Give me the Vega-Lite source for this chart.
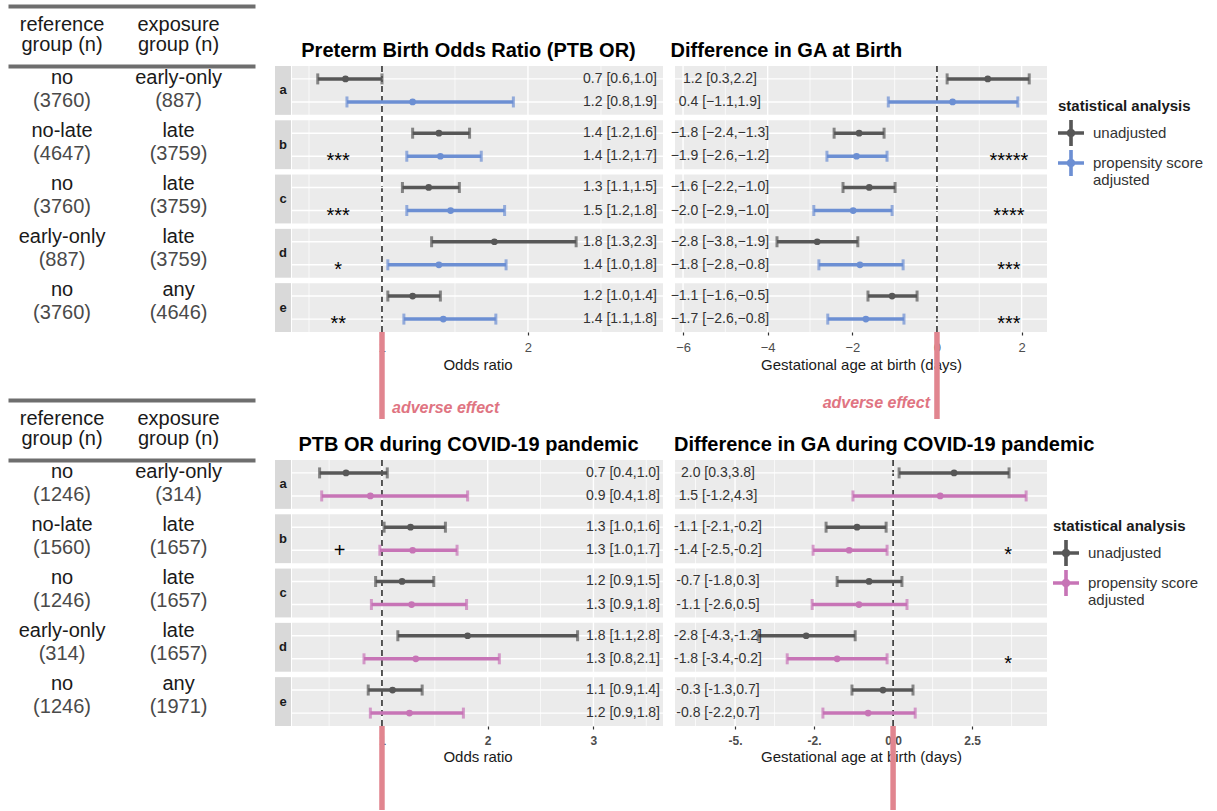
{
  "$schema": "https://vega.github.io/schema/vega-lite/v6.json",
  "padding": {"left": 8, "top": 6, "right": 5, "bottom": 0},
  "background": "white",
  "config": {"view": {"stroke": null}, "font": "Liberation Sans"},
  "datasets": {
    "rows": [{"row": "a"}, {"row": "b"}, {"row": "c"}, {"row": "d"}, {"row": "e"}],
    "hdr": [
      {"col": "reference", "line": "1", "text": "reference"},
      {"col": "reference", "line": "2", "text": "group (n)"},
      {"col": "exposure", "line": "1", "text": "exposure"},
      {"col": "exposure", "line": "2", "text": "group (n)"}
    ],
    "tab1": [
      {"row": "a", "col": "reference", "name": "no", "n": "(3760)"},
      {"row": "a", "col": "exposure", "name": "early-only", "n": "(887)"},
      {"row": "b", "col": "reference", "name": "no-late", "n": "(4647)"},
      {"row": "b", "col": "exposure", "name": "late", "n": "(3759)"},
      {"row": "c", "col": "reference", "name": "no", "n": "(3760)"},
      {"row": "c", "col": "exposure", "name": "late", "n": "(3759)"},
      {"row": "d", "col": "reference", "name": "early-only", "n": "(887)"},
      {"row": "d", "col": "exposure", "name": "late", "n": "(3759)"},
      {"row": "e", "col": "reference", "name": "no", "n": "(3760)"},
      {"row": "e", "col": "exposure", "name": "any", "n": "(4646)"}
    ],
    "tab2": [
      {"row": "a", "col": "reference", "name": "no", "n": "(1246)"},
      {"row": "a", "col": "exposure", "name": "early-only", "n": "(314)"},
      {"row": "b", "col": "reference", "name": "no-late", "n": "(1560)"},
      {"row": "b", "col": "exposure", "name": "late", "n": "(1657)"},
      {"row": "c", "col": "reference", "name": "no", "n": "(1246)"},
      {"row": "c", "col": "exposure", "name": "late", "n": "(1657)"},
      {"row": "d", "col": "reference", "name": "early-only", "n": "(314)"},
      {"row": "d", "col": "exposure", "name": "late", "n": "(1657)"},
      {"row": "e", "col": "reference", "name": "no", "n": "(1246)"},
      {"row": "e", "col": "exposure", "name": "any", "n": "(1971)"}
    ],
    "or1": [
      {"row": "a", "analysis": "unadjusted", "est": 0.75, "lo": 0.56, "hi": 1.0, "label": "0.7 [0.6,1.0]"},
      {"row": "a", "analysis": "adjusted", "est": 1.21, "lo": 0.76, "hi": 1.9, "label": "1.2 [0.8,1.9]"},
      {"row": "b", "analysis": "unadjusted", "est": 1.39, "lo": 1.21, "hi": 1.6, "label": "1.4 [1.2,1.6]"},
      {"row": "b", "analysis": "adjusted", "est": 1.4, "lo": 1.17, "hi": 1.68, "label": "1.4 [1.2,1.7]"},
      {"row": "c", "analysis": "unadjusted", "est": 1.32, "lo": 1.14, "hi": 1.53, "label": "1.3 [1.1,1.5]"},
      {"row": "c", "analysis": "adjusted", "est": 1.47, "lo": 1.17, "hi": 1.84, "label": "1.5 [1.2,1.8]"},
      {"row": "d", "analysis": "unadjusted", "est": 1.77, "lo": 1.34, "hi": 2.33, "label": "1.8 [1.3,2.3]"},
      {"row": "d", "analysis": "adjusted", "est": 1.39, "lo": 1.04, "hi": 1.85, "label": "1.4 [1.0,1.8]"},
      {"row": "e", "analysis": "unadjusted", "est": 1.21, "lo": 1.04, "hi": 1.4, "label": "1.2 [1.0,1.4]"},
      {"row": "e", "analysis": "adjusted", "est": 1.42, "lo": 1.15, "hi": 1.78, "label": "1.4 [1.1,1.8]"}
    ],
    "ga1": [
      {"row": "a", "analysis": "unadjusted", "est": 1.2, "lo": 0.24, "hi": 2.18, "label": "1.2 [0.3,2.2]"},
      {"row": "a", "analysis": "adjusted", "est": 0.37, "lo": -1.15, "hi": 1.91, "label": "0.4 [−1.1,1.9]"},
      {"row": "b", "analysis": "unadjusted", "est": -1.84, "lo": -2.43, "hi": -1.25, "label": "−1.8 [−2.4,−1.3]"},
      {"row": "b", "analysis": "adjusted", "est": -1.9, "lo": -2.6, "hi": -1.18, "label": "−1.9 [−2.6,−1.2]"},
      {"row": "c", "analysis": "unadjusted", "est": -1.6, "lo": -2.22, "hi": -0.99, "label": "−1.6 [−2.2,−1.0]"},
      {"row": "c", "analysis": "adjusted", "est": -1.98, "lo": -2.91, "hi": -1.06, "label": "−2.0 [−2.9,−1.0]"},
      {"row": "d", "analysis": "unadjusted", "est": -2.83, "lo": -3.78, "hi": -1.87, "label": "−2.8 [−3.8,−1.9]"},
      {"row": "d", "analysis": "adjusted", "est": -1.82, "lo": -2.79, "hi": -0.8, "label": "−1.8 [−2.8,−0.8]"},
      {"row": "e", "analysis": "unadjusted", "est": -1.06, "lo": -1.63, "hi": -0.47, "label": "−1.1 [−1.6,−0.5]"},
      {"row": "e", "analysis": "adjusted", "est": -1.68, "lo": -2.58, "hi": -0.78, "label": "−1.7 [−2.6,−0.8]"}
    ],
    "or2": [
      {"row": "a", "analysis": "unadjusted", "est": 0.66, "lo": 0.41, "hi": 1.05, "label": "0.7 [0.4,1.0]"},
      {"row": "a", "analysis": "adjusted", "est": 0.89, "lo": 0.43, "hi": 1.81, "label": "0.9 [0.4,1.8]"},
      {"row": "b", "analysis": "unadjusted", "est": 1.27, "lo": 1.02, "hi": 1.6, "label": "1.3 [1.0,1.6]"},
      {"row": "b", "analysis": "adjusted", "est": 1.29, "lo": 0.98, "hi": 1.71, "label": "1.3 [1.0,1.7]"},
      {"row": "c", "analysis": "unadjusted", "est": 1.19, "lo": 0.94, "hi": 1.49, "label": "1.2 [0.9,1.5]"},
      {"row": "c", "analysis": "adjusted", "est": 1.28, "lo": 0.9, "hi": 1.8, "label": "1.3 [0.9,1.8]"},
      {"row": "d", "analysis": "unadjusted", "est": 1.81, "lo": 1.15, "hi": 2.85, "label": "1.8 [1.1,2.8]"},
      {"row": "d", "analysis": "adjusted", "est": 1.32, "lo": 0.83, "hi": 2.11, "label": "1.3 [0.8,2.1]"},
      {"row": "e", "analysis": "unadjusted", "est": 1.1, "lo": 0.87, "hi": 1.38, "label": "1.1 [0.9,1.4]"},
      {"row": "e", "analysis": "adjusted", "est": 1.26, "lo": 0.89, "hi": 1.77, "label": "1.2 [0.9,1.8]"}
    ],
    "ga2": [
      {"row": "a", "analysis": "unadjusted", "est": 1.93, "lo": 0.19, "hi": 3.67, "label": "2.0 [0.3,3.8]"},
      {"row": "a", "analysis": "adjusted", "est": 1.49, "lo": -1.27, "hi": 4.21, "label": "1.5 [-1.2,4.3]"},
      {"row": "b", "analysis": "unadjusted", "est": -1.14, "lo": -2.12, "hi": -0.22, "label": "-1.1 [-2.1,-0.2]"},
      {"row": "b", "analysis": "adjusted", "est": -1.39, "lo": -2.53, "hi": -0.19, "label": "-1.4 [-2.5,-0.2]"},
      {"row": "c", "analysis": "unadjusted", "est": -0.76, "lo": -1.77, "hi": 0.28, "label": "-0.7 [-1.8,0.3]"},
      {"row": "c", "analysis": "adjusted", "est": -1.08, "lo": -2.56, "hi": 0.44, "label": "-1.1 [-2.6,0.5]"},
      {"row": "d", "analysis": "unadjusted", "est": -2.75, "lo": -4.27, "hi": -1.2, "label": "-2.8 [-4.3,-1.2]"},
      {"row": "d", "analysis": "adjusted", "est": -1.77, "lo": -3.35, "hi": -0.19, "label": "-1.8 [-3.4,-0.2]"},
      {"row": "e", "analysis": "unadjusted", "est": -0.32, "lo": -1.3, "hi": 0.63, "label": "-0.3 [-1.3,0.7]"},
      {"row": "e", "analysis": "adjusted", "est": -0.79, "lo": -2.22, "hi": 0.7, "label": "-0.8 [-2.2,0.7]"}
    ],
    "st_or1": [
      {"row": "b", "analysis": "adjusted", "s": "***"},
      {"row": "c", "analysis": "adjusted", "s": "***"},
      {"row": "d", "analysis": "adjusted", "s": "*"},
      {"row": "e", "analysis": "adjusted", "s": "**"}
    ],
    "st_ga1": [
      {"row": "b", "analysis": "adjusted", "s": "*****"},
      {"row": "c", "analysis": "adjusted", "s": "****"},
      {"row": "d", "analysis": "adjusted", "s": "***"},
      {"row": "e", "analysis": "adjusted", "s": "***"}
    ],
    "st_or2": [{"row": "b", "analysis": "adjusted", "s": "+"}],
    "st_ga2": [
      {"row": "b", "analysis": "adjusted", "s": "*"},
      {"row": "d", "analysis": "adjusted", "s": "*"}
    ],
    "ref_or": [{"ref": 1, "label": "adverse effect"}],
    "ref_ga": [{"ref": 0, "label": "adverse effect"}]
  },
  "bounds": "flush",
  "spacing": 0,
  "vconcat": [
    {
      "width": 247, "height": 60,
      "data": {"name": "hdr"},
      "encoding": {
        "y": {"field": "line", "type": "nominal", "scale": {"type": "point", "domain": ["1", "2"], "padding": 1, "align": 0.6125}, "axis": null},
        "text": {"field": "text"}
      },
      "layer": [
        {"transform": [{"filter": "datum.line == '1'"}],
         "mark": {"type": "text", "baseline": "alphabetic", "fontSize": 20, "color": "#1a1a1a"},
         "encoding": {"x": {"field": "col", "type": "nominal", "scale": {"type": "point", "domain": ["reference", "exposure"], "padding": 0.56, "align": 0.414},
           "axis": {"orient": "top", "domain": true, "domainWidth": 4, "domainColor": "#6e6e6e", "labels": false, "ticks": false, "title": null}}}},
        {"transform": [{"filter": "datum.line == '2'"}],
         "mark": {"type": "text", "baseline": "alphabetic", "fontSize": 20, "color": "#1a1a1a"},
         "encoding": {"x": {"field": "col", "type": "nominal", "scale": {"type": "point", "domain": ["reference", "exposure"], "padding": 0.56, "align": 0.414},
           "axis": {"orient": "bottom", "domain": true, "domainWidth": 4, "domainColor": "#6e6e6e", "labels": false, "ticks": false, "title": null}}}}
      ],
      "resolve": {"axis": {"x": "independent"}}
    },
    {
      "bounds": "flush", "spacing": 267,
      "hconcat": [
        {
          "bounds": "flush", "spacing": 68,
          "vconcat": [
            {
              "width": 247, "height": 266,
              "data": {"name": "tab1"},
              "encoding": {
                "x": {"field": "col", "type": "nominal", "scale": {"type": "point", "domain": ["reference", "exposure"], "padding": 0.56, "align": 0.414}, "axis": null},
                "y": {"field": "row", "type": "nominal", "scale": {"domain": ["a", "b", "c", "d", "e"], "paddingInner": 0.1, "paddingOuter": 0}, "axis": null}
              },
              "layer": [
                {"mark": {"type": "text", "baseline": "alphabetic", "dy": -9, "fontSize": 20, "color": "#1a1a1a"}, "encoding": {"text": {"field": "name"}}},
                {"mark": {"type": "text", "baseline": "alphabetic", "dy": 14, "fontSize": 20, "color": "#4a4a4a"}, "encoding": {"text": {"field": "n"}}}
              ]
            },
            {
              "bounds": "flush", "spacing": 0,
              "vconcat": [
                {
                  "width": 247, "height": 60,
                  "data": {"name": "hdr"},
                  "encoding": {
                    "y": {"field": "line", "type": "nominal", "scale": {"type": "point", "domain": ["1", "2"], "padding": 1, "align": 0.6125}, "axis": null},
                    "text": {"field": "text"}
                  },
                  "layer": [
                    {"transform": [{"filter": "datum.line == '1'"}],
                     "mark": {"type": "text", "baseline": "alphabetic", "fontSize": 20, "color": "#1a1a1a"},
                     "encoding": {"x": {"field": "col", "type": "nominal", "scale": {"type": "point", "domain": ["reference", "exposure"], "padding": 0.56, "align": 0.414},
                       "axis": {"orient": "top", "domain": true, "domainWidth": 4, "domainColor": "#6e6e6e", "labels": false, "ticks": false, "title": null}}}},
                    {"transform": [{"filter": "datum.line == '2'"}],
                     "mark": {"type": "text", "baseline": "alphabetic", "fontSize": 20, "color": "#1a1a1a"},
                     "encoding": {"x": {"field": "col", "type": "nominal", "scale": {"type": "point", "domain": ["reference", "exposure"], "padding": 0.56, "align": 0.414},
                       "axis": {"orient": "bottom", "domain": true, "domainWidth": 4, "domainColor": "#6e6e6e", "labels": false, "ticks": false, "title": null}}}}
                  ],
                  "resolve": {"axis": {"x": "independent"}}
                },
                {
                  "width": 247, "height": 266,
                  "data": {"name": "tab2"},
                  "encoding": {
                    "x": {"field": "col", "type": "nominal", "scale": {"type": "point", "domain": ["reference", "exposure"], "padding": 0.56, "align": 0.414}, "axis": null},
                    "y": {"field": "row", "type": "nominal", "scale": {"domain": ["a", "b", "c", "d", "e"], "paddingInner": 0.1, "paddingOuter": 0}, "axis": null}
                  },
                  "layer": [
                    {"mark": {"type": "text", "baseline": "alphabetic", "dy": -9, "fontSize": 20, "color": "#1a1a1a"}, "encoding": {"text": {"field": "name"}}},
                    {"mark": {"type": "text", "baseline": "alphabetic", "dy": 14, "fontSize": 20, "color": "#4a4a4a"}, "encoding": {"text": {"field": "n"}}}
                  ]
                }
              ]
            }
          ]
        },
        {
          "bounds": "flush", "spacing": 400,
          "hconcat": [
            {
              "bounds": "flush", "spacing": 17,
              "hconcat": [
                {
                  "bounds": "flush", "spacing": 128,
                  "vconcat": [
                    {
                      "width": 16, "height": 266,
                      "data": {"name": "rows"},
                      "encoding": {"y": {"field": "row", "type": "nominal", "scale": {"domain": ["a", "b", "c", "d", "e"], "paddingInner": 0.1, "paddingOuter": 0}, "axis": null}},
                      "layer": [
                        {"mark": {"type": "rect", "color": "#d9d9d9"},
                         "encoding": {"x": {"datum": 0, "type": "quantitative", "scale": {"domain": [0, 1], "nice": false, "zero": false}, "axis": null}, "x2": {"datum": 1}}},
                        {"mark": {"type": "text", "fontSize": 13, "fontWeight": "bold", "color": "#1a1a1a"},
                         "encoding": {"x": {"datum": 0.5, "type": "quantitative", "axis": null}, "text": {"field": "row"}}}
                      ]
                    },
                    {
                      "width": 16, "height": 266,
                      "data": {"name": "rows"},
                      "encoding": {"y": {"field": "row", "type": "nominal", "scale": {"domain": ["a", "b", "c", "d", "e"], "paddingInner": 0.1, "paddingOuter": 0}, "axis": null}},
                      "layer": [
                        {"mark": {"type": "rect", "color": "#d9d9d9"},
                         "encoding": {"x": {"datum": 0, "type": "quantitative", "scale": {"domain": [0, 1], "nice": false, "zero": false}, "axis": null}, "x2": {"datum": 1}}},
                        {"mark": {"type": "text", "fontSize": 13, "fontWeight": "bold", "color": "#1a1a1a"},
                         "encoding": {"x": {"datum": 0.5, "type": "quantitative", "axis": null}, "text": {"field": "row"}}}
                      ]
                    }
                  ]
                },
                {
                  "bounds": "flush", "spacing": 394,
                  "resolve": {"scale": {"color": "independent", "stroke": "independent", "fill": "independent"}},
                  "vconcat": [
                    {
                      "bounds": "flush", "spacing": 0,
                      "resolve": {"scale": {"color": "independent", "stroke": "independent", "fill": "independent"}},
                      "vconcat": [
                        {
                          "width": 371, "height": 266,
                          "title": {"text": "Preterm Birth Odds Ratio (PTB OR)", "anchor": "middle", "dx": -9, "offset": 4, "fontSize": 20, "fontWeight": "bold", "color": "#000000"},
                          "layer": [
                            {"data": {"name": "rows"}, "mark": {"type": "rect", "color": "#ebebeb"},
                             "encoding": {
                               "x": {"datum": 0.3836, "type": "quantitative", "scale": {"domain": [0.3836, 2.925], "nice": false, "zero": false}},
                               "x2": {"datum": 2.925},
                               "y": {"field": "row", "type": "nominal", "scale": {"domain": ["a", "b", "c", "d", "e"], "paddingInner": 0.1, "paddingOuter": 0}, "axis": null}}},
                            {"encoding": {"y": {"datum": 0, "type": "quantitative", "scale": {"domain": [0, 1], "nice": false, "zero": false}, "axis": null}, "y2": {"datum": 1}},
                             "layer": [
                               {"data": {"values": [{"v": 0.5}, {"v": 1.5}, {"v": 2.5}]}, "mark": {"type": "rule", "color": "#ffffff", "strokeWidth": 0.7},
                                "encoding": {"x": {"field": "v", "type": "quantitative"}}},
                               {"data": {"values": [{"v": 1}, {"v": 2}]}, "mark": {"type": "rule", "color": "#ffffff", "strokeWidth": 1.4},
                                "encoding": {"x": {"field": "v", "type": "quantitative"}}},
                               {"data": {"name": "ref_or"}, "mark": {"type": "rule", "color": "#000000", "strokeWidth": 1.3, "strokeDash": [6, 4]},
                                "encoding": {"x": {"field": "ref", "type": "quantitative"}}}
                             ]},
                            {"data": {"name": "or1"},
                             "encoding": {
                               "y": {"field": "row", "type": "nominal", "scale": {"domain": ["a", "b", "c", "d", "e"], "paddingInner": 0.1, "paddingOuter": 0}, "axis": null},
                               "yOffset": {"field": "analysis", "type": "nominal", "scale": {"domain": ["unadjusted", "adjusted"], "paddingOuter": 0.06, "paddingInner": 0}}},
                             "layer": [
                               {"mark": {"type": "rule", "color": "#ffffff", "strokeWidth": 1.4},
                                "encoding": {"x": {"datum": 0.3836, "type": "quantitative"}, "x2": {"datum": 2.925}}},
                               {"mark": {"type": "rule", "strokeWidth": 3.5},
                                "encoding": {"x": {"field": "lo", "type": "quantitative",
                                    "axis": {"values": [1, 2], "format": "d", "title": "Odds ratio", "grid": false, "domain": false, "ticks": true, "tickSize": 3, "tickColor": "#333333", "tickWidth": 1.2, "labels": true, "labelFontSize": 13, "labelColor": "#4d4d4d", "labelPadding": 6, "titleFontSize": 15, "titleFontWeight": "normal", "titleColor": "#1a1a1a", "titlePadding": 3}},
                                  "x2": {"field": "hi"},
                                  "stroke": {"field": "analysis", "type": "nominal", "scale": {"domain": ["adjusted", "unadjusted"], "range": ["#6c8fd3", "#575757"]}, "legend": null}}},
                               {"mark": {"type": "tick", "thickness": 3, "size": 11},
                                "encoding": {"x": {"field": "lo", "type": "quantitative"}, "fill": {"field": "analysis", "type": "nominal", "scale": {"domain": ["adjusted", "unadjusted"], "range": ["#6c8fd3", "#575757"]}, "legend": null}}},
                               {"mark": {"type": "tick", "thickness": 3, "size": 11},
                                "encoding": {"x": {"field": "hi", "type": "quantitative"}, "fill": {"field": "analysis", "type": "nominal", "legend": null}}},
                               {"mark": {"type": "point", "filled": true, "size": 45, "opacity": 1},
                                "encoding": {"x": {"field": "est", "type": "quantitative"}, "color": {"field": "analysis", "type": "nominal", "scale": {"domain": ["unadjusted", "adjusted"], "range": ["#575757", "#6c8fd3"]}, "legend": null}}},
                               {"mark": {"type": "text", "align": "right", "dx": -6, "fontSize": 14, "color": "#333333"},
                                "encoding": {"x": {"datum": 2.925, "type": "quantitative"}, "text": {"field": "label"}}},
                               {"data": {"name": "st_or1"}, "mark": {"type": "text", "fontSize": 20, "dy": 5, "color": "#000000"},
                                "encoding": {"x": {"datum": 0.7, "type": "quantitative"}, "text": {"field": "s"}}}
                             ]}
                          ],
                          "resolve": {"scale": {"y": "independent"}}
                        },
                        {
                          "width": 371, "height": 87,
                          "data": {"name": "ref_or"},
                          "encoding": {"x": {"field": "ref", "type": "quantitative", "scale": {"domain": [0.3836, 2.925], "nice": false, "zero": false}, "axis": null}},
                          "layer": [
                            {"mark": {"type": "rule", "color": "#e1858f", "strokeWidth": 5.5},
                             "encoding": {"y": {"datum": 0, "type": "quantitative", "scale": {"domain": [0, 1], "nice": false, "zero": false}, "axis": null}, "y2": {"datum": 1}}},
                            {"mark": {"type": "text", "align": "left", "baseline": "alphabetic", "dx": 10, "dy": -6, "fontSize": 16, "fontStyle": "italic", "fontWeight": "bold", "color": "#e07482"},
                             "encoding": {"y": {"datum": 0, "type": "quantitative"}, "text": {"field": "label"}}}
                          ]
                        }
                      ]
                    },
                    {
                      "bounds": "flush", "spacing": 0,
                      "resolve": {"scale": {"color": "independent", "stroke": "independent", "fill": "independent"}},
                      "vconcat": [
                        {
                          "width": 371, "height": 266,
                          "title": {"text": "PTB OR during COVID-19 pandemic", "anchor": "middle", "dx": -9, "offset": 4, "fontSize": 20, "fontWeight": "bold", "color": "#000000"},
                          "layer": [
                            {"data": {"name": "rows"}, "mark": {"type": "rect", "color": "#ebebeb"},
                             "encoding": {
                               "x": {"datum": 0.149, "type": "quantitative", "scale": {"domain": [0.149, 3.658], "nice": false, "zero": false}},
                               "x2": {"datum": 3.658},
                               "y": {"field": "row", "type": "nominal", "scale": {"domain": ["a", "b", "c", "d", "e"], "paddingInner": 0.1, "paddingOuter": 0}, "axis": null}}},
                            {"encoding": {"y": {"datum": 0, "type": "quantitative", "scale": {"domain": [0, 1], "nice": false, "zero": false}, "axis": null}, "y2": {"datum": 1}},
                             "layer": [
                               {"data": {"values": [{"v": 0.5}, {"v": 1.5}, {"v": 2.5}, {"v": 3.5}]}, "mark": {"type": "rule", "color": "#ffffff", "strokeWidth": 0.7},
                                "encoding": {"x": {"field": "v", "type": "quantitative"}}},
                               {"data": {"values": [{"v": 1}, {"v": 2}, {"v": 3}]}, "mark": {"type": "rule", "color": "#ffffff", "strokeWidth": 1.4},
                                "encoding": {"x": {"field": "v", "type": "quantitative"}}},
                               {"data": {"name": "ref_or"}, "mark": {"type": "rule", "color": "#000000", "strokeWidth": 1.3, "strokeDash": [6, 4]},
                                "encoding": {"x": {"field": "ref", "type": "quantitative"}}}
                             ]},
                            {"data": {"name": "or2"},
                             "encoding": {
                               "y": {"field": "row", "type": "nominal", "scale": {"domain": ["a", "b", "c", "d", "e"], "paddingInner": 0.1, "paddingOuter": 0}, "axis": null},
                               "yOffset": {"field": "analysis", "type": "nominal", "scale": {"domain": ["unadjusted", "adjusted"], "paddingOuter": 0.06, "paddingInner": 0}}},
                             "layer": [
                               {"mark": {"type": "rule", "color": "#ffffff", "strokeWidth": 1.4},
                                "encoding": {"x": {"datum": 0.149, "type": "quantitative"}, "x2": {"datum": 3.658}}},
                               {"mark": {"type": "rule", "strokeWidth": 3.5},
                                "encoding": {"x": {"field": "lo", "type": "quantitative",
                                    "axis": {"values": [1, 2, 3], "format": "d", "title": "Odds ratio", "grid": false, "domain": false, "ticks": true, "tickSize": 3, "tickColor": "#333333", "tickWidth": 1.2, "labels": true, "labelFontSize": 12, "labelFontWeight": "bold", "labelColor": "#4d4d4d", "labelPadding": 6, "titleFontSize": 15, "titleFontWeight": "normal", "titleColor": "#1a1a1a", "titlePadding": 3}},
                                  "x2": {"field": "hi"},
                                  "stroke": {"field": "analysis", "type": "nominal", "scale": {"domain": ["adjusted", "unadjusted"], "range": ["#c774b6", "#575757"]}, "legend": null}}},
                               {"mark": {"type": "tick", "thickness": 3, "size": 11},
                                "encoding": {"x": {"field": "lo", "type": "quantitative"}, "fill": {"field": "analysis", "type": "nominal", "scale": {"domain": ["adjusted", "unadjusted"], "range": ["#c774b6", "#575757"]}, "legend": null}}},
                               {"mark": {"type": "tick", "thickness": 3, "size": 11},
                                "encoding": {"x": {"field": "hi", "type": "quantitative"}, "fill": {"field": "analysis", "type": "nominal", "legend": null}}},
                               {"mark": {"type": "point", "filled": true, "size": 45, "opacity": 1},
                                "encoding": {"x": {"field": "est", "type": "quantitative"}, "color": {"field": "analysis", "type": "nominal", "scale": {"domain": ["unadjusted", "adjusted"], "range": ["#575757", "#c774b6"]}, "legend": null}}},
                               {"mark": {"type": "text", "align": "right", "dx": -3, "fontSize": 14, "color": "#333333"},
                                "encoding": {"x": {"datum": 3.658, "type": "quantitative"}, "text": {"field": "label"}}},
                               {"data": {"name": "st_or2"}, "mark": {"type": "text", "fontSize": 20, "dy": 1, "color": "#000000"},
                                "encoding": {"x": {"datum": 0.6, "type": "quantitative"}, "text": {"field": "s"}}}
                             ]}
                          ],
                          "resolve": {"scale": {"y": "independent"}}
                        },
                        {
                          "width": 371, "height": 84,
                          "data": {"name": "ref_or"},
                          "mark": {"type": "rule", "color": "#e1858f", "strokeWidth": 5.5},
                          "encoding": {
                            "x": {"field": "ref", "type": "quantitative", "scale": {"domain": [0.149, 3.658], "nice": false, "zero": false}, "axis": null},
                            "y": {"datum": 0, "type": "quantitative", "scale": {"domain": [0, 1], "nice": false, "zero": false}, "axis": null},
                            "y2": {"datum": 1}
                          }
                        }
                      ]
                    }
                  ]
                }
              ]
            },
            {
              "bounds": "flush", "spacing": 394,
              "resolve": {"scale": {"color": "independent", "stroke": "independent", "fill": "independent"}},
              "vconcat": [
                {
                  "bounds": "flush", "spacing": 0,
                  "resolve": {"scale": {"color": "independent", "stroke": "independent", "fill": "independent"}},
                  "vconcat": [
                    {
                      "width": 372, "height": 266,
                      "title": {"text": "Difference in GA at Birth", "anchor": "start", "offset": 4, "fontSize": 20, "fontWeight": "bold", "color": "#000000"},
                      "layer": [
                        {"data": {"name": "rows"}, "mark": {"type": "rect", "color": "#ebebeb"},
                         "encoding": {
                           "x": {"datum": -6.19, "type": "quantitative", "scale": {"domain": [-6.19, 2.6], "nice": false, "zero": false}},
                           "x2": {"datum": 2.6},
                           "y": {"field": "row", "type": "nominal", "scale": {"domain": ["a", "b", "c", "d", "e"], "paddingInner": 0.1, "paddingOuter": 0}, "axis": null}}},
                        {"encoding": {"y": {"datum": 0, "type": "quantitative", "scale": {"domain": [0, 1], "nice": false, "zero": false}, "axis": null}, "y2": {"datum": 1}},
                         "layer": [
                           {"data": {"values": [{"v": -5}, {"v": -3}, {"v": -1}, {"v": 1}]}, "mark": {"type": "rule", "color": "#ffffff", "strokeWidth": 0.7},
                            "encoding": {"x": {"field": "v", "type": "quantitative"}}},
                           {"data": {"values": [{"v": -6}, {"v": -4}, {"v": -2}, {"v": 0}, {"v": 2}]}, "mark": {"type": "rule", "color": "#ffffff", "strokeWidth": 1.4},
                            "encoding": {"x": {"field": "v", "type": "quantitative"}}},
                           {"data": {"name": "ref_ga"}, "mark": {"type": "rule", "color": "#000000", "strokeWidth": 1.3, "strokeDash": [6, 4]},
                            "encoding": {"x": {"field": "ref", "type": "quantitative"}}}
                         ]},
                        {"data": {"name": "ga1"},
                         "encoding": {
                           "y": {"field": "row", "type": "nominal", "scale": {"domain": ["a", "b", "c", "d", "e"], "paddingInner": 0.1, "paddingOuter": 0}, "axis": null},
                           "yOffset": {"field": "analysis", "type": "nominal", "scale": {"domain": ["unadjusted", "adjusted"], "paddingOuter": 0.06, "paddingInner": 0}}},
                         "layer": [
                           {"mark": {"type": "rule", "color": "#ffffff", "strokeWidth": 1.4},
                            "encoding": {"x": {"datum": -6.19, "type": "quantitative"}, "x2": {"datum": 2.6}}},
                           {"mark": {"type": "rule", "strokeWidth": 3.5},
                            "encoding": {"x": {"field": "lo", "type": "quantitative",
                                "axis": {"values": [-6, -4, -2, 0, 2], "format": "d", "title": "Gestational age at birth (days)", "grid": false, "domain": false, "ticks": true, "tickSize": 3, "tickColor": "#333333", "tickWidth": 1.2, "labels": true, "labelFontSize": 13, "labelColor": "#4d4d4d", "labelPadding": 6, "titleFontSize": 15, "titleFontWeight": "normal", "titleColor": "#1a1a1a", "titlePadding": 3}},
                              "x2": {"field": "hi"},
                              "stroke": {"field": "analysis", "type": "nominal", "scale": {"domain": ["adjusted", "unadjusted"], "range": ["#6c8fd3", "#575757"]}, "legend": null}}},
                           {"mark": {"type": "tick", "thickness": 3, "size": 11},
                            "encoding": {"x": {"field": "lo", "type": "quantitative"}, "fill": {"field": "analysis", "type": "nominal", "scale": {"domain": ["adjusted", "unadjusted"], "range": ["#6c8fd3", "#575757"]}, "legend": null}}},
                           {"mark": {"type": "tick", "thickness": 3, "size": 11},
                            "encoding": {"x": {"field": "hi", "type": "quantitative"}, "fill": {"field": "analysis", "type": "nominal", "legend": null}}},
                           {"mark": {"type": "point", "filled": true, "size": 45, "opacity": 1},
                            "encoding": {"x": {"field": "est", "type": "quantitative"},
                              "color": {"field": "analysis", "type": "nominal", "scale": {"domain": ["unadjusted", "adjusted"], "range": ["#575757", "#6c8fd3"]},
                                "legend": {"orient": "none", "legendX": 383, "legendY": 33, "title": "statistical analysis", "titleFontSize": 15, "titleFontWeight": "bold", "titleColor": "#1a1a1a", "titlePadding": 6,
                                  "labelFontSize": 15, "labelColor": "#333333", "labelOffset": 9, "rowPadding": 4, "symbolSize": 676, "symbolStrokeWidth": 0, "symbolOpacity": 1,
                                  "symbolType": "M-1,-0.14L1,-0.14L1,0.14L-1,0.14Z M-0.14,-1L0.14,-1L0.14,1L-0.14,1Z M-0.33,0A0.33,0.33,0,1,1,0.33,0A0.33,0.33,0,1,1,-0.33,0Z",
                                  "labelExpr": "datum.value == 'adjusted' ? ['propensity score', 'adjusted'] : datum.label"}}}},
                           {"mark": {"type": "text", "align": "center", "fontSize": 14, "color": "#333333"},
                            "encoding": {"x": {"datum": -5.13, "type": "quantitative"}, "text": {"field": "label"}}},
                           {"data": {"name": "st_ga1"}, "mark": {"type": "text", "fontSize": 20, "dy": 5, "color": "#000000"},
                            "encoding": {"x": {"datum": 1.7, "type": "quantitative"}, "text": {"field": "s"}}}
                         ]}
                      ],
                      "resolve": {"scale": {"y": "independent"}}
                    },
                    {
                      "width": 372, "height": 87,
                      "data": {"name": "ref_ga"},
                      "encoding": {"x": {"field": "ref", "type": "quantitative", "scale": {"domain": [-6.19, 2.6], "nice": false, "zero": false}, "axis": null}},
                      "layer": [
                        {"mark": {"type": "rule", "color": "#e1858f", "strokeWidth": 5.5},
                         "encoding": {"y": {"datum": 0, "type": "quantitative", "scale": {"domain": [0, 1], "nice": false, "zero": false}, "axis": null}, "y2": {"datum": 1}}},
                        {"mark": {"type": "text", "align": "right", "baseline": "alphabetic", "dx": -7, "dy": -11.5, "fontSize": 16, "fontStyle": "italic", "fontWeight": "bold", "color": "#e07482"},
                         "encoding": {"y": {"datum": 0, "type": "quantitative"}, "text": {"field": "label"}}}
                      ]
                    }
                  ]
                },
                {
                  "bounds": "flush", "spacing": 0,
                  "resolve": {"scale": {"color": "independent", "stroke": "independent", "fill": "independent"}},
                  "vconcat": [
                    {
                      "width": 372, "height": 266,
                      "title": {"text": "Difference in GA during COVID-19 pandemic", "anchor": "start", "offset": 4, "fontSize": 20, "fontWeight": "bold", "color": "#000000"},
                      "layer": [
                        {"data": {"name": "rows"}, "mark": {"type": "rect", "color": "#ebebeb"},
                         "encoding": {
                           "x": {"datum": -6.9, "type": "quantitative", "scale": {"domain": [-6.9, 4.87], "nice": false, "zero": false}},
                           "x2": {"datum": 4.87},
                           "y": {"field": "row", "type": "nominal", "scale": {"domain": ["a", "b", "c", "d", "e"], "paddingInner": 0.1, "paddingOuter": 0}, "axis": null}}},
                        {"encoding": {"y": {"datum": 0, "type": "quantitative", "scale": {"domain": [0, 1], "nice": false, "zero": false}, "axis": null}, "y2": {"datum": 1}},
                         "layer": [
                           {"data": {"values": [{"v": -6.25}, {"v": -3.75}, {"v": -1.25}, {"v": 1.25}, {"v": 3.75}]}, "mark": {"type": "rule", "color": "#ffffff", "strokeWidth": 0.7},
                            "encoding": {"x": {"field": "v", "type": "quantitative"}}},
                           {"data": {"values": [{"v": -5}, {"v": -2.5}, {"v": 0}, {"v": 2.5}]}, "mark": {"type": "rule", "color": "#ffffff", "strokeWidth": 1.4},
                            "encoding": {"x": {"field": "v", "type": "quantitative"}}},
                           {"data": {"name": "ref_ga"}, "mark": {"type": "rule", "color": "#000000", "strokeWidth": 1.3, "strokeDash": [6, 4]},
                            "encoding": {"x": {"field": "ref", "type": "quantitative"}}}
                         ]},
                        {"data": {"name": "ga2"},
                         "encoding": {
                           "y": {"field": "row", "type": "nominal", "scale": {"domain": ["a", "b", "c", "d", "e"], "paddingInner": 0.1, "paddingOuter": 0}, "axis": null},
                           "yOffset": {"field": "analysis", "type": "nominal", "scale": {"domain": ["unadjusted", "adjusted"], "paddingOuter": 0.06, "paddingInner": 0}}},
                         "layer": [
                           {"mark": {"type": "rule", "color": "#ffffff", "strokeWidth": 1.4},
                            "encoding": {"x": {"datum": -6.9, "type": "quantitative"}, "x2": {"datum": 4.87}}},
                           {"mark": {"type": "rule", "strokeWidth": 3.5},
                            "encoding": {"x": {"field": "lo", "type": "quantitative",
                                "axis": {"values": [-5, -2.5, 0, 2.5], "labelExpr": "datum.value == -5 ? '-5.' : datum.value == -2.5 ? '-2.' : datum.value == 0 ? '0.0' : '2.5'", "title": "Gestational age at birth (days)", "grid": false, "domain": false, "ticks": true, "tickSize": 3, "tickColor": "#333333", "tickWidth": 1.2, "labels": true, "labelFontSize": 12, "labelFontWeight": "bold", "labelColor": "#4d4d4d", "labelPadding": 6, "titleFontSize": 15, "titleFontWeight": "normal", "titleColor": "#1a1a1a", "titlePadding": 3}},
                              "x2": {"field": "hi"},
                              "stroke": {"field": "analysis", "type": "nominal", "scale": {"domain": ["adjusted", "unadjusted"], "range": ["#c774b6", "#575757"]}, "legend": null}}},
                           {"mark": {"type": "tick", "thickness": 3, "size": 11},
                            "encoding": {"x": {"field": "lo", "type": "quantitative"}, "fill": {"field": "analysis", "type": "nominal", "scale": {"domain": ["adjusted", "unadjusted"], "range": ["#c774b6", "#575757"]}, "legend": null}}},
                           {"mark": {"type": "tick", "thickness": 3, "size": 11},
                            "encoding": {"x": {"field": "hi", "type": "quantitative"}, "fill": {"field": "analysis", "type": "nominal", "legend": null}}},
                           {"mark": {"type": "point", "filled": true, "size": 45, "opacity": 1},
                            "encoding": {"x": {"field": "est", "type": "quantitative"},
                              "color": {"field": "analysis", "type": "nominal", "scale": {"domain": ["unadjusted", "adjusted"], "range": ["#575757", "#c774b6"]},
                                "legend": {"orient": "none", "legendX": 378, "legendY": 59, "title": "statistical analysis", "titleFontSize": 15, "titleFontWeight": "bold", "titleColor": "#1a1a1a", "titlePadding": 6,
                                  "labelFontSize": 15, "labelColor": "#333333", "labelOffset": 9, "rowPadding": 4, "symbolSize": 676, "symbolStrokeWidth": 0, "symbolOpacity": 1,
                                  "symbolType": "M-1,-0.14L1,-0.14L1,0.14L-1,0.14Z M-0.14,-1L0.14,-1L0.14,1L-0.14,1Z M-0.33,0A0.33,0.33,0,1,1,0.33,0A0.33,0.33,0,1,1,-0.33,0Z",
                                  "labelExpr": "datum.value == 'adjusted' ? ['propensity score', 'adjusted'] : datum.label"}}}},
                           {"mark": {"type": "text", "align": "center", "fontSize": 14, "color": "#333333"},
                            "encoding": {"x": {"datum": -5.54, "type": "quantitative"}, "text": {"field": "label"}}},
                           {"data": {"name": "st_ga2"}, "mark": {"type": "text", "fontSize": 20, "dy": 5, "color": "#000000"},
                            "encoding": {"x": {"datum": 3.64, "type": "quantitative"}, "text": {"field": "s"}}}
                         ]}
                      ],
                      "resolve": {"scale": {"y": "independent"}}
                    },
                    {
                      "width": 372, "height": 84,
                      "data": {"name": "ref_ga"},
                      "mark": {"type": "rule", "color": "#e1858f", "strokeWidth": 5.5},
                      "encoding": {
                        "x": {"field": "ref", "type": "quantitative", "scale": {"domain": [-6.9, 4.87], "nice": false, "zero": false}, "axis": null},
                        "y": {"datum": 0, "type": "quantitative", "scale": {"domain": [0, 1], "nice": false, "zero": false}, "axis": null},
                        "y2": {"datum": 1}
                      }
                    }
                  ]
                }
              ]
            }
          ]
        }
      ]
    }
  ]
}
